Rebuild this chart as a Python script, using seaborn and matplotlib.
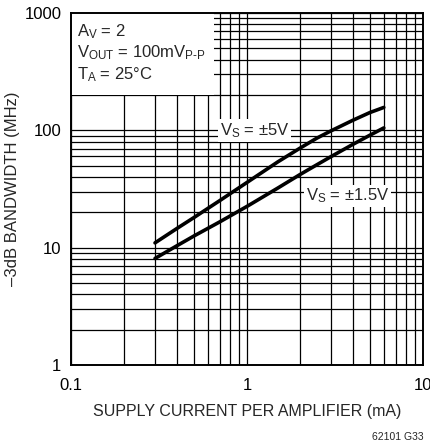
import numpy as np
import pandas as pd
import seaborn as sns
import matplotlib.pyplot as plt
from matplotlib.patches import Rectangle
from matplotlib.ticker import FixedLocator, NullFormatter

# data (x: mA, y: MHz)
current = [0.3, 0.4, 0.5, 0.7, 1.0, 1.5, 2.0, 2.5, 3.0, 4.0, 5.0, 6.0]
bw_5v = [11.0, 14.6, 18.1, 25.2, 36.0, 54.0, 70.5, 86.0, 99.0, 122.0, 142.0, 157.0]
bw_1p5v = [8.1, 10.4, 12.6, 16.6, 22.5, 32.3, 42.0, 51.0, 59.7, 76.0, 91.0, 105.0]
series = ["±5V", "±1.5V"]

x_ticks = [0.1, 1, 10]
x_ticklabels = ["0.1", "1", "10"]
y_ticks = [1, 10, 100, 1000]
y_ticklabels = ["1", "10", "100", "1000"]

df = pd.DataFrame({
    "current": current * 2,
    "bw": bw_5v + bw_1p5v,
    "supply": [series[0]] * len(current) + [series[1]] * len(current),
})

sns.set_style("white")
plt.rcParams["font.family"] = ["Liberation Sans", "DejaVu Sans"]
plt.rcParams["mathtext.fontset"] = "custom"
plt.rcParams["mathtext.rm"] = "Liberation Sans"
plt.rcParams["mathtext.it"] = "Liberation Sans"

fig = plt.figure(figsize=(4.31, 4.46), dpi=100)
ax = fig.add_axes([0.165, 0.1816, 0.816, 0.789])

sns.lineplot(data=df, x="current", y="bw", hue="supply",
             palette=["black", "black"], linewidth=2.6, legend=False,
             ax=ax, zorder=3)

ax.set_xscale("log")
ax.set_yscale("log")
ax.set_xlim(0.1, 10)
ax.set_ylim(1, 1000)

ax.set_xticks(x_ticks)
ax.set_xticklabels(x_ticklabels)
ax.set_yticks(y_ticks)
ax.set_yticklabels(y_ticklabels)
minor_x = [m * d for d in (0.1, 1) for m in range(2, 10)]
minor_y = [m * d for d in (1, 10, 100) for m in range(2, 10)]
ax.xaxis.set_minor_locator(FixedLocator(minor_x))
ax.yaxis.set_minor_locator(FixedLocator(minor_y))
ax.xaxis.set_minor_formatter(NullFormatter())
ax.yaxis.set_minor_formatter(NullFormatter())
ax.tick_params(which="both", length=0, labelsize=12, colors="black")
ax.tick_params(axis="x", pad=9)
ax.tick_params(axis="y", pad=7)

ax.set_axisbelow(True)
ax.grid(True, which="both", color="black", linewidth=0.9)
for s in ax.spines.values():
    s.set_color("black")
    s.set_linewidth(1.4)
    s.set_zorder(5)

# white box behind the conditions text
ax.add_patch(Rectangle((0.1, 200), 0.55, 800, facecolor="white",
                       edgecolor="none", zorder=1))
ax.text(0.018, 0.975,
        "$A_V$ = 2\n$V_{OUT}$ = 100m$V_{P\u2010P}$\n$T_A$ = 25°C",
        transform=ax.transAxes, ha="left", va="top", fontsize=12,
        linespacing=1.2, zorder=4)

bbox = dict(facecolor="white", edgecolor="none", pad=1.5)
ax.text(0.70, 100, "$V_S$ = ±5V", fontsize=12, ha="left", va="center",
        bbox=bbox, zorder=4)
ax.text(2.16, 27.6, "$V_S$ = ±1.5V", fontsize=12, ha="left", va="center",
        bbox=bbox, zorder=4)

ax.set_xlabel("SUPPLY CURRENT PER AMPLIFIER (mA)", fontsize=11.5, labelpad=8)
ax.set_ylabel("\u20133dB BANDWIDTH (MHz)", fontsize=12, labelpad=3)

fig.text(0.983, 0.02, "62101 G33", fontsize=7.5, ha="right", va="center")

fig.savefig("out.png", dpi=100, facecolor="white")
